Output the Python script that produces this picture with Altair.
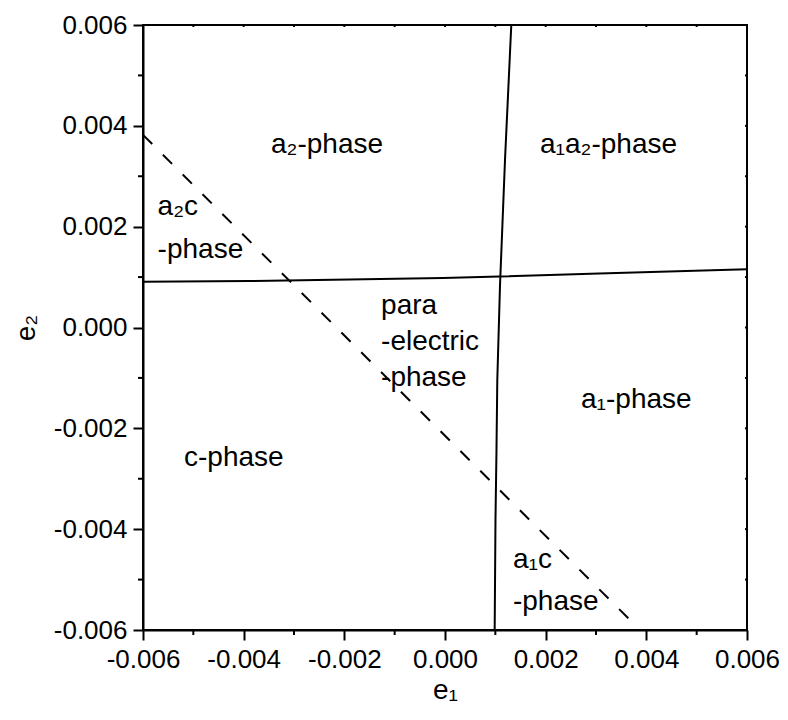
import altair as alt
import pandas as pd

# ---- data ----
# solid phase boundary (vertical one, roughly x ~ 0.001)
vert_x = [0.000987, 0.001003, 0.001023, 0.001039, 0.001093, 0.001192, 0.001317]
vert_y = [-0.006, -0.003818, -0.00243, -0.001041, 0.000843, 0.003322, 0.006]
# solid phase boundary (horizontal one, roughly y ~ 0.001)
horz_x = [-0.006, -0.003894, -0.001907, -0.00004, 0.001073, 0.00306, 0.006]
horz_y = [0.000908, 0.000922, 0.000952, 0.000982, 0.001012, 0.001071, 0.001154]
# dashed boundary
dash_x = [-0.006, 0.00371]
dash_y = [0.00382, -0.005835]

# region labels
label_text = ["a₂-phase", "a₁a₂-phase", "a₂c", "-phase", "para", "-electric", "-phase",
              "a₁-phase", "c-phase", "a₁c", "-phase"]
label_x = [-0.003457, 0.001887, -0.00571, -0.00571, -0.00127, -0.00127, -0.00127,
           0.002702, -0.005185, 0.00135, 0.00135]
label_y = [0.003461, 0.003461, 0.002231, 0.001373, 0.000268, -0.000446, -0.00116,
           -0.0016, -0.002747, -0.00477, -0.005613]

major_ticks = [-0.006, -0.004, -0.002, 0.0, 0.002, 0.004, 0.006]
minor_ticks = [-0.005, -0.003, -0.001, 0.001, 0.003, 0.005]
all_ticks = sorted(major_ticks + minor_ticks)
domain = [-0.006, 0.006]

FONT = "Liberation Sans"
W, H = 604, 605

solid_rows = []
for i, (x, y) in enumerate(zip(vert_x, vert_y)):
    solid_rows.append({"line": "v", "i": i, "x": x, "y": y})
for i, (x, y) in enumerate(zip(horz_x, horz_y)):
    solid_rows.append({"line": "h", "i": i, "x": x, "y": y})
solid_df = pd.DataFrame(solid_rows)
dash_df = pd.DataFrame({"x": dash_x, "y": dash_y, "i": list(range(len(dash_x)))})
label_df = pd.DataFrame({"t": label_text, "x": label_x, "y": label_y})
minor_df = pd.DataFrame({"v": minor_ticks})
all_df = pd.DataFrame({"v": all_ticks})


def main_axis(title, pad_label, pad_title):
    return alt.Axis(
        values=major_ticks,
        format=".3f",
        labelExpr="replace(datum.label, '\u2212', '-')",
        tickSize=10,
        tickWidth=2, tickColor="black",
        domainWidth=2, domainColor="black",
        labelFont=FONT, labelFontSize=26, labelColor="black",
        labelPadding=pad_label, labelFlush=False, labelOverlap=False,
        title=title, titleFont=FONT, titleFontSize=28, titleFontWeight="normal",
        titleColor="black", titlePadding=pad_title, grid=False,
    )

XAX = main_axis("e₁", 6, 4)
YAX = main_axis("e₂", 6, 13)
xs = alt.Scale(domain=domain, nice=False, zero=False)
ys = alt.Scale(domain=domain, nice=False, zero=False)

def X(f):
    return alt.X(f, scale=xs, axis=XAX)

def Y(f):
    return alt.Y(f, scale=ys, axis=YAX)

solid = alt.Chart(solid_df).mark_line(color="black", strokeWidth=2).encode(
    x=X("x:Q"), y=Y("y:Q"), detail="line:N", order="i:Q",
)

dashed = alt.Chart(dash_df).mark_line(color="black", strokeWidth=2,
                                      strokeDash=[13, 15]).encode(
    x=X("x:Q"), y=Y("y:Q"), order="i:Q",
)

labels = alt.Chart(label_df).mark_text(
    font=FONT, fontSize=28, color="black", align="left", baseline="alphabetic"
).encode(x=X("x:Q"), y=Y("y:Q"), text="t:N")

tick_style = dict(color="black", strokeWidth=2)
minor_bottom = alt.Chart(minor_df).mark_rule(**tick_style).encode(
    x=X("v:Q"), y=alt.value(H), y2=alt.value(H + 5))
minor_left = alt.Chart(minor_df).mark_rule(**tick_style).encode(
    y=Y("v:Q"), x=alt.value(0), x2=alt.value(-5))
top_ticks = alt.Chart(all_df).mark_rule(**tick_style).encode(
    x=X("v:Q"), y=alt.value(-1), y2=alt.value(2))
right_ticks = alt.Chart(all_df).mark_rule(**tick_style).encode(
    y=Y("v:Q"), x=alt.value(W - 2), x2=alt.value(W + 1))

chart = alt.layer(solid, dashed, labels, minor_bottom, minor_left,
                  top_ticks, right_ticks).properties(
    width=W, height=H,
    autosize=alt.AutoSizeParams(type="none"),
    padding={"left": 135, "top": 17, "right": 33, "bottom": 80},
    background="white",
).configure_view(stroke="black", strokeWidth=2)

chart.save("out.html", embed_options={"renderer": "svg", "actions": False})
